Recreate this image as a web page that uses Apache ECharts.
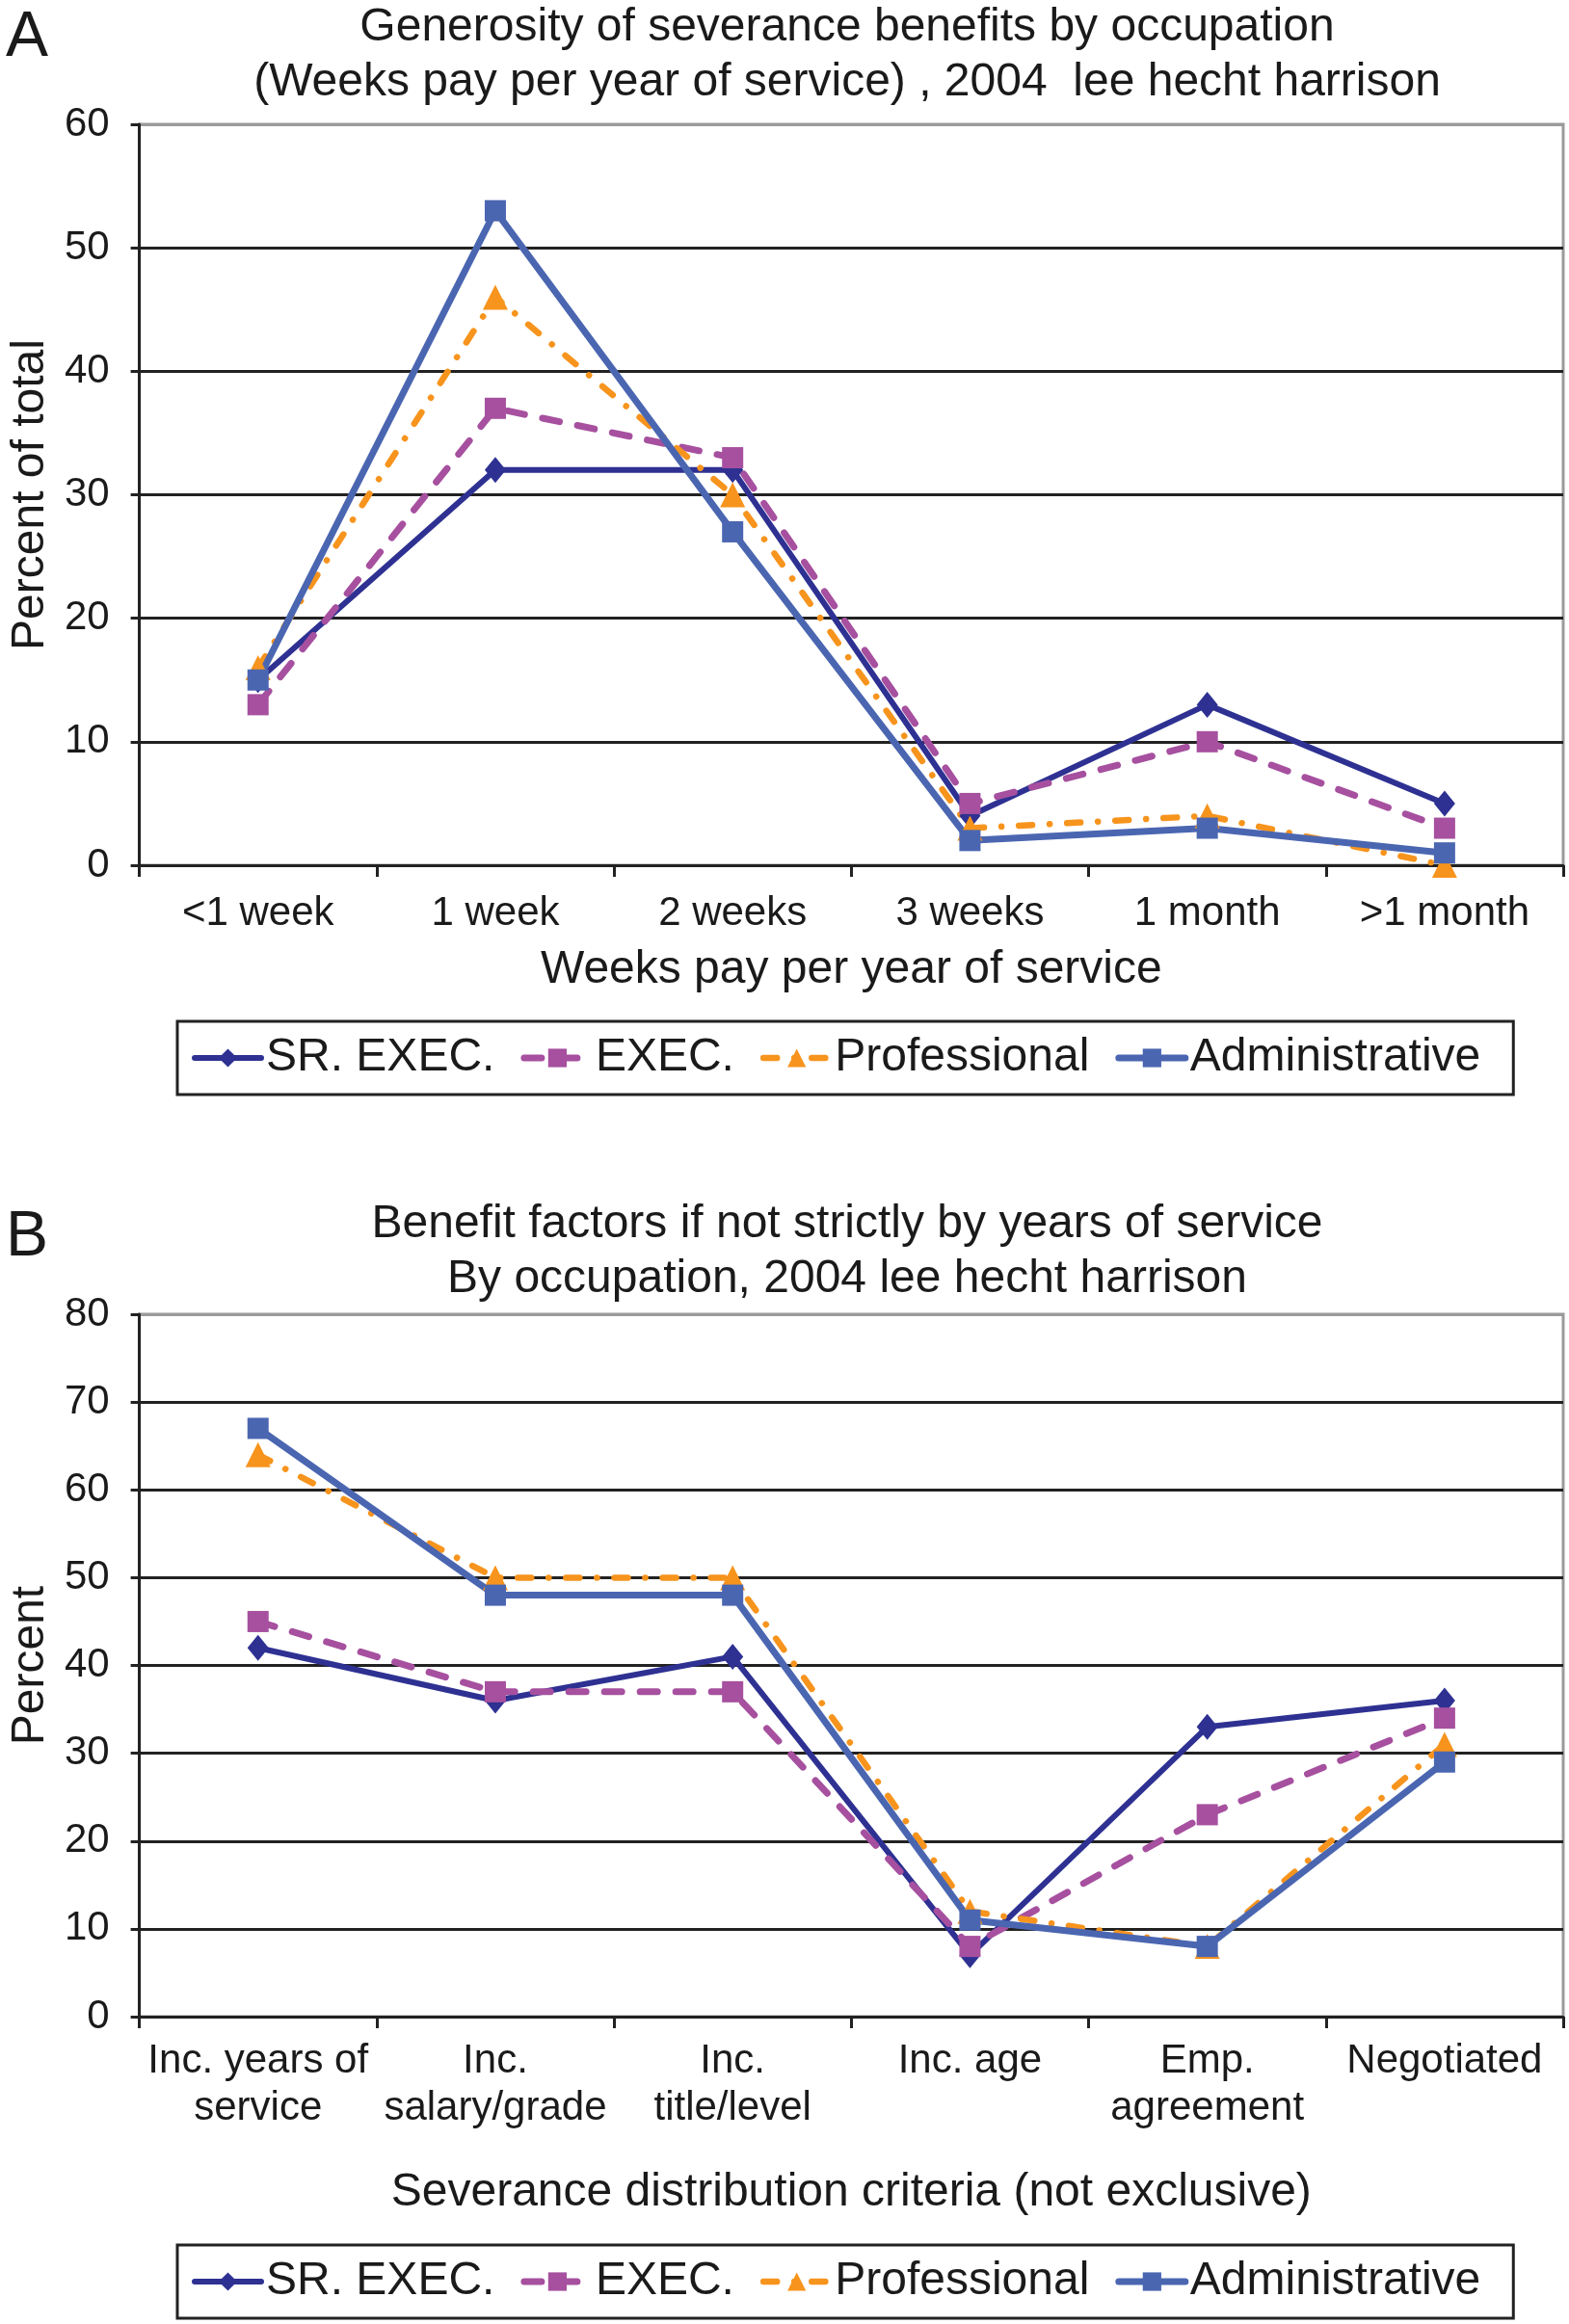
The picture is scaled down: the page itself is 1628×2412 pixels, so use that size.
<!DOCTYPE html>
<html><head><meta charset="utf-8">
<script src="https://cdn.jsdelivr.net/npm/echarts@6/dist/echarts.min.js"></script>
<style>html,body{margin:0;padding:0;background:#fff}#c{width:1628px;height:2412px}</style>
</head><body><div id="c"></div>
<script>
// ---------- data ----------
const seriesNames = ['SR. EXEC.', 'EXEC.', 'Professional', 'Administrative'];

const catsA = ['<1 week', '1 week', '2 weeks', '3 weeks', '1 month', '>1 month'];
const srExecA = [15, 32, 32, 4, 13, 5];
const execA   = [13, 37, 33, 5, 10, 3];
const profA   = [16, 46, 30, 3, 4, 0];
const adminA  = [15, 53, 27, 2, 3, 1];
const yTicksA = [0, 10, 20, 30, 40, 50, 60];

const catsB = ['Inc. years of\nservice', 'Inc.\nsalary/grade', 'Inc.\ntitle/level', 'Inc. age', 'Emp.\nagreement', 'Negotiated'];
const srExecB = [42, 36, 41, 7, 33, 36];
const execB   = [45, 37, 37, 8, 23, 34];
const profB   = [64, 50, 50, 12, 8, 31];
const adminB  = [67, 48, 48, 11, 8, 29];
const yTicksB = [0, 10, 20, 30, 40, 50, 60, 70, 80];

const titleA = 'Generosity of severance benefits by occupation\n(Weeks pay per year of service) , 2004  lee hecht harrison';
const titleB = 'Benefit factors if not strictly by years of service\nBy occupation, 2004 lee hecht harrison';

// ---------- styles ----------
const FONT = '"Liberation Sans", Arial, sans-serif';
const INK = '#1a1a1a';
const styles = [
  { color: '#2E3192', width: 6, type: 'solid', symbol: 'diamond', size: [22, 27] },
  { color: '#A6509F', width: 7, type: [18, 19], symbol: 'rect', size: 22 },
  { color: '#F7941D', width: 6.5, type: [14, 18, 0.1, 18], symbol: 'triangle', size: 26 },
  { color: '#4B66B1', width: 7, type: 'solid', symbol: 'rect', size: 22 }
];

function mkSeries(name, data, idx, st) {
  return {
    name: name, type: 'line', data: data,
    xAxisIndex: idx, yAxisIndex: idx,
    symbol: st.symbol, symbolSize: st.size, showAllSymbol: true,
    itemStyle: { color: st.color },
    lineStyle: { color: st.color, width: st.width, type: st.type, cap: 'round' },
    emphasis: { disabled: true },
    animation: false
  };
}

function splitColors(n) {
  const arr = [];
  for (let i = 0; i < n; i++) arr.push(i === n - 1 ? '#9a9a9a' : '#222');
  return arr;
}

function xAxis(idx, cats, name, margin, nameGap, lh) {
  return {
    gridIndex: idx, type: 'category', data: cats, boundaryGap: true,
    axisLine: { show: true, lineStyle: { color: '#222', width: 3 } },
    axisTick: { show: true, length: 12, lineStyle: { color: '#222', width: 3 } },
    axisLabel: { interval: 0, fontSize: 42, fontFamily: FONT, color: INK, margin: margin, lineHeight: lh },
    splitLine: { show: false },
    name: name, nameLocation: 'middle', nameGap: nameGap,
    nameTextStyle: { fontSize: 48, fontFamily: FONT, color: INK }
  };
}
function yAxis(idx, ticks, name) {
  return {
    gridIndex: idx, type: 'value', min: ticks[0], max: ticks[ticks.length - 1],
    interval: ticks[1] - ticks[0],
    axisLine: { show: true, lineStyle: { color: '#222', width: 3 } },
    axisTick: { show: true, length: 9, lineStyle: { color: '#222', width: 3 } },
    axisLabel: { fontSize: 42, fontFamily: FONT, color: INK, margin: 31 },
    splitLine: { show: true, lineStyle: { color: splitColors(ticks.length), width: 3 } },
    name: name, nameLocation: 'middle', nameGap: 86,
    nameTextStyle: { fontSize: 48, fontFamily: FONT, color: INK }
  };
}
function legend(top) {
  return {
    data: seriesNames, left: 184, top: top, orient: 'horizontal',
    itemWidth: 69, itemHeight: 24, itemGap: 27,
    padding: [14, 34, 14, 15],
    borderColor: '#222', borderWidth: 3,
    lineStyle: { width: 'inherit' },
    textStyle: { fontSize: 48, fontFamily: FONT, color: INK },
    selectedMode: false
  };
}
function txt(x, y, text, size, lh) {
  return { type: 'text', x: x, y: y, silent: true,
    style: { text: text, font: size + 'px ' + FONT, fill: INK, align: 'center', verticalAlign: 'middle', lineHeight: lh } };
}

const chart = echarts.init(document.getElementById('c'), null, { renderer: 'canvas' });
const data = [[srExecA, execA, profA, adminA], [srExecB, execB, profB, adminB]];
const series = [];
for (let g = 0; g < 2; g++) for (let s = 0; s < 4; s++) series.push(mkSeries(seriesNames[s], data[g][s], g, styles[s]));

chart.setOption({
  backgroundColor: '#fff',
  animation: false,
  grid: [
    { left: 137, top: 129, width: 1485, height: 769, show: true, borderColor: '#9a9a9a', borderWidth: 3, containLabel: false },
    { left: 137, top: 1364, width: 1485, height: 729, show: true, borderColor: '#9a9a9a', borderWidth: 3, containLabel: false }
  ],
  xAxis: [
    xAxis(0, catsA, 'Weeks pay per year of service', 26, 85, 48),
    xAxis(1, catsB, 'Severance distribution criteria (not exclusive)', 22, 159, 49)
  ],
  yAxis: [ yAxis(0, yTicksA, 'Percent of total'), yAxis(1, yTicksB, 'Percent') ],
  legend: [ legend(1060), legend(2330) ],
  tooltip: { show: false },
  graphic: [
    txt(879, 57, titleA, 48, 57),
    txt(879, 1299, titleB, 48, 57),
    txt(28, 40, 'A', 66, 70),
    txt(28, 1285, 'B', 66, 70)
  ],
  series: series
});
</script></body></html>
